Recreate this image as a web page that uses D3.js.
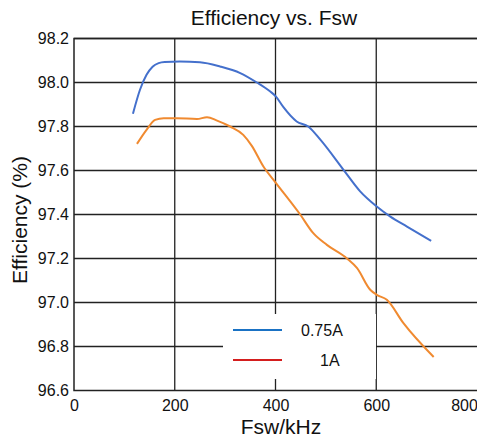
<!DOCTYPE html>
<html>
<head>
<meta charset="utf-8">
<script src="https://cdn.jsdelivr.net/npm/d3@7"></script>
<style>
  body { margin: 0; background: #fff; }
  text { font-family: "Liberation Sans", Arial, sans-serif; fill: #111; }
</style>
</head>
<body>
<div id="chart"></div>
<script>
// data
const fsw_075 = [117, 131, 144, 156, 168, 180, 210, 250, 290, 330, 363, 389, 401, 415, 442, 465, 489, 535, 568, 601, 628, 661, 709];
const eff_075 = [97.858, 97.967, 98.035, 98.072, 98.088, 98.093, 98.095, 98.092, 98.073, 98.043, 98.0, 97.96, 97.936, 97.89, 97.823, 97.80, 97.74, 97.603, 97.505, 97.436, 97.39, 97.345, 97.28];
const fsw_1 = [125, 144, 161, 178, 204, 244, 264, 284, 310, 336, 353, 376, 401, 449, 475, 502, 542, 562, 588, 601, 621, 654, 714];
const eff_1 = [97.721, 97.785, 97.83, 97.838, 97.838, 97.834, 97.842, 97.827, 97.80, 97.762, 97.712, 97.618, 97.543, 97.40, 97.315, 97.262, 97.20, 97.156, 97.058, 97.035, 97.012, 96.906, 96.752];
const xTicks = [0, 200, 400, 600, 800];
const yTicks = [96.6, 96.8, 97.0, 97.2, 97.4, 97.6, 97.8, 98.0, 98.2];
const legendNames = ["0.75A", "1A"];

let W = 477, H = 441;
let margin = {top: 38.5, right: 0, bottom: 50.5, left: 74},
    width = 403, height = H - margin.top - margin.bottom;

let svg = d3.select("#chart").append("svg")
  .attr("width", W).attr("height", H);

let g = svg.append("g").attr("transform", "translate(" + margin.left + "," + margin.top + ")");

let xScale = d3.scaleLinear().domain([0, 800]).range([0, width]);
let yScale = d3.scaleLinear().domain([96.6, 98.2]).range([height, 0]);

// gridlines
g.append("g").selectAll("line").data(xTicks.slice(1, 4)).join("line")
  .attr("x1", d => xScale(d)).attr("x2", d => xScale(d))
  .attr("y1", 0).attr("y2", height)
  .attr("stroke", "#222").attr("stroke-width", 1.3);
g.append("g").selectAll("line").data(yTicks.slice(1)).join("line")
  .attr("x1", 0).attr("x2", width)
  .attr("y1", d => yScale(d)).attr("y2", d => yScale(d))
  .attr("stroke", "#222").attr("stroke-width", 1.3);

// frame
g.append("path")
  .attr("d", "M" + width + ",0H0V" + height + "H" + width)
  .attr("fill", "none").attr("stroke", "#222").attr("stroke-width", 1.5);

// axes (labels only)
let xAxis = d3.axisBottom(xScale).tickValues(xTicks).tickSize(0).tickPadding(9);
let yAxis = d3.axisLeft(yScale).tickValues(yTicks).tickSize(0).tickPadding(5).tickFormat(d3.format(".1f"));

g.append("g").attr("transform", "translate(0," + height + ")").call(xAxis)
  .call(a => a.select(".domain").remove())
  .selectAll("text").style("font-size", "16px").attr("fill", "#111")
  .attr("dx", d => d == 800 ? "-13px" : 0);
g.append("g").call(yAxis)
  .call(a => a.select(".domain").remove())
  .selectAll("text").style("font-size", "16px").attr("fill", "#111");

// curves
let line = d3.line()
  .x(d => xScale(d[0]))
  .y(d => yScale(d[1]))
  .curve(d3.curveMonotoneX);

let series = [
  {pts: d3.zip(fsw_075, eff_075), color: "#4470cc"},
  {pts: d3.zip(fsw_1, eff_1), color: "#f08a30"}
];
g.selectAll(".curve").data(series).join("path")
  .attr("class", "curve")
  .attr("d", d => line(d.pts))
  .attr("fill", "none")
  .attr("stroke", d => d.color)
  .attr("stroke-width", 2);

// legend
let legend = svg.append("g");
legend.append("rect")
  .attr("x", 223).attr("y", 314).attr("width", 153).attr("height", 65)
  .attr("fill", "#fff");
let legendColors = ["#1a72c4", "#d41e1e"];
legendNames.forEach(function(name, i) {
  let y = 330 + i * 30;
  legend.append("line")
    .attr("x1", 233).attr("x2", 282).attr("y1", y).attr("y2", y)
    .attr("stroke", legendColors[i]).attr("stroke-width", 2);
  legend.append("text")
    .attr("x", i == 0 ? 301 : 320).attr("y", y + 6)
    .style("font-size", "16px")
    .text(name);
});

// titles
svg.append("text")
  .attr("x", 274).attr("y", 25)
  .style("text-anchor", "middle")
  .style("font-size", "21px")
  .text("Efficiency vs. Fsw");

svg.append("text")
  .attr("x", 281).attr("y", 434)
  .style("text-anchor", "middle")
  .style("font-size", "21px")
  .text("Fsw/kHz");

svg.append("text")
  .attr("transform", "translate(27," + 220 + ") rotate(-90)")
  .style("text-anchor", "middle")
  .style("font-size", "21px")
  .text("Efficiency (%)");
</script>
</body>
</html>
